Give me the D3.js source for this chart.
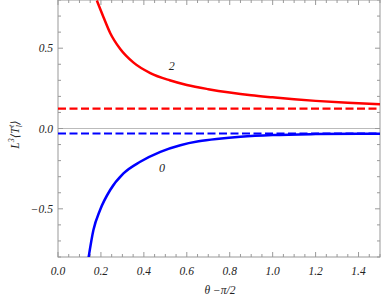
<!DOCTYPE html>
<html>
<head>
<meta charset="utf-8">
<script src="https://cdn.jsdelivr.net/npm/d3@7"></script>
<style>
  body { margin: 0; background: #fff; }
  svg { display: block; }
  text { font-family: "Liberation Serif", "DejaVu Serif", serif; font-style: italic; fill: #222; }
</style>
</head>
<body>
<div id="chart"></div>
<script>
// curve l = 2 (red)
const redX = [0.181, 0.212, 0.243, 0.29, 0.352, 0.43, 0.52, 0.6, 0.7, 0.8, 0.9, 1.0, 1.1, 1.2, 1.35, 1.5];
const redY = [0.797, 0.693, 0.595, 0.495, 0.41, 0.345, 0.3, 0.271, 0.245, 0.224, 0.207, 0.194, 0.182, 0.172, 0.16, 0.151];
// curve l = 0 (blue)
const blueX = [0.142, 0.165, 0.196, 0.243, 0.305, 0.383, 0.477, 0.57, 0.655, 0.75, 0.85, 1.0, 1.2, 1.5];
const blueY = [-0.807, -0.632, -0.507, -0.383, -0.28, -0.207, -0.145, -0.104, -0.08, -0.064, -0.052, -0.041, -0.035, -0.032];
// asymptotes (dashed)
const redLimit = 0.124;
const blueLimit = -0.031;

const xTicks = [0, 0.2, 0.4, 0.6, 0.8, 1.0, 1.2, 1.4];
const yTicks = [-0.5, 0, 0.5];
const curveLabels = [
  { text: "2", x: 0.53, y: 0.39 },
  { text: "0", x: 0.485, y: -0.245 },
];

const width = 382, height = 300;
const margin = { top: 0, right: 2, bottom: 43, left: 58 };

const svg = d3.select("#chart").append("svg")
  .attr("width", width)
  .attr("height", height);

const x = d3.scaleLinear().domain([0, 1.5]).range([margin.left, width - margin.right]);
const y = d3.scaleLinear().domain([-0.8, 0.8]).range([height - margin.bottom, margin.top]);

const frameColor = "#999";
const g = svg.append("g");

// zero line
g.append("line")
  .attr("x1", x(0)).attr("x2", x(1.5))
  .attr("y1", y(0)).attr("y2", y(0))
  .attr("stroke", "#bbb").attr("stroke-width", 1);

// frame
g.append("rect")
  .attr("x", x(0)).attr("y", y(0.8))
  .attr("width", x(1.5) - x(0)).attr("height", y(-0.8) - y(0.8))
  .attr("fill", "none").attr("stroke", frameColor).attr("stroke-width", 1);

// ticks on all four sides, pointing inward
const xMinor = d3.range(0, 1.5001, 0.05);
const yMinor = d3.range(-0.8, 0.8001, 0.1);
const isMajor = (v, step) => Math.abs(v / step - Math.round(v / step)) < 1e-6;

xMinor.forEach((v) => {
  const len = isMajor(v, 0.2) ? 5 : 3;
  g.append("line").attr("x1", x(v)).attr("x2", x(v))
    .attr("y1", y(-0.8)).attr("y2", y(-0.8) - len)
    .attr("stroke", frameColor);
  g.append("line").attr("x1", x(v)).attr("x2", x(v))
    .attr("y1", y(0.8)).attr("y2", y(0.8) + len)
    .attr("stroke", frameColor);
});
yMinor.forEach((v) => {
  const len = isMajor(v, 0.5) ? 5 : 3;
  g.append("line").attr("x1", x(0)).attr("x2", x(0) + len)
    .attr("y1", y(v)).attr("y2", y(v))
    .attr("stroke", frameColor);
  g.append("line").attr("x1", x(1.5)).attr("x2", x(1.5) - len)
    .attr("y1", y(v)).attr("y2", y(v))
    .attr("stroke", frameColor);
});

// tick labels
g.selectAll(".xt").data(xTicks).join("text")
  .attr("x", (d) => x(d))
  .attr("y", y(-0.8) + 18)
  .attr("text-anchor", "middle")
  .attr("font-size", 11.5)
  .text((d) => d.toFixed(1));

g.selectAll(".yt").data(yTicks).join("text")
  .attr("x", x(0) - 5)
  .attr("y", (d) => y(d) + 4)
  .attr("text-anchor", "end")
  .attr("font-size", 11.5)
  .text((d) => (d < 0 ? "\u2212" + Math.abs(d).toFixed(1) : d.toFixed(1)));

// axis titles
svg.append("text")
  .attr("x", 220).attr("y", 294)
  .attr("text-anchor", "middle")
  .attr("font-size", 11.5)
  .text("\u03b8 \u2212\u03c0/2");

const yl = svg.append("text")
  .attr("transform", `translate(19,${y(0) + 6}) rotate(-90)`)
  .attr("text-anchor", "middle")
  .attr("font-size", 11.5);
yl.append("tspan").text("L");
yl.append("tspan").attr("font-size", 8).attr("dy", -5).text("3");
yl.append("tspan").attr("dy", 5).text("\u27e8T");
yl.append("tspan").attr("font-size", 8).attr("dy", 3).text("l");
yl.append("tspan").attr("font-size", 8).attr("dx", -2).attr("dy", -8).text("t");
yl.append("tspan").attr("dy", 5).text("\u27e9");

// curves, clipped to the frame
svg.append("clipPath").attr("id", "clip")
  .append("rect")
  .attr("x", x(0)).attr("y", y(0.8))
  .attr("width", x(1.5) - x(0)).attr("height", y(-0.8) - y(0.8));

const plot = svg.append("g").attr("clip-path", "url(#clip)");
const line = d3.line().x((d) => x(d[0])).y((d) => y(d[1])).curve(d3.curveMonotoneX);

plot.append("line")
  .attr("x1", x(0)).attr("x2", x(1.5))
  .attr("y1", y(redLimit)).attr("y2", y(redLimit))
  .attr("stroke", "#ff0000").attr("stroke-width", 2.2)
  .attr("stroke-dasharray", "8,3.5");
plot.append("line")
  .attr("x1", x(0)).attr("x2", x(1.5))
  .attr("y1", y(blueLimit)).attr("y2", y(blueLimit))
  .attr("stroke", "#0000ff").attr("stroke-width", 2.2)
  .attr("stroke-dasharray", "8,3.5");

plot.append("path")
  .attr("d", line(d3.zip(redX, redY)))
  .attr("fill", "none").attr("stroke", "#ff0000").attr("stroke-width", 2.5);
plot.append("path")
  .attr("d", line(d3.zip(blueX, blueY)))
  .attr("fill", "none").attr("stroke", "#0000ff").attr("stroke-width", 2.5);

// curve labels
svg.selectAll(".cl").data(curveLabels).join("text")
  .attr("x", (d) => x(d.x))
  .attr("y", (d) => y(d.y) + 4)
  .attr("text-anchor", "middle")
  .attr("font-size", 12)
  .text((d) => d.text);
</script>
</body>
</html>
